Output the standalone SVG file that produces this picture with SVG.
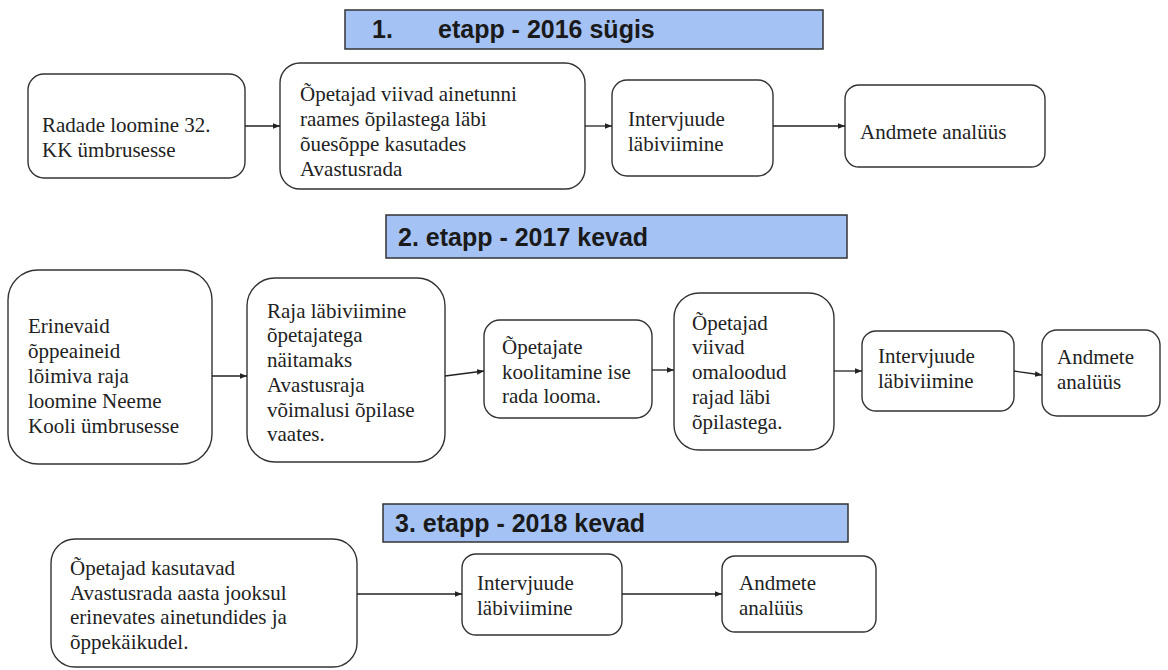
<svg xmlns="http://www.w3.org/2000/svg" width="1168" height="670" viewBox="0 0 1168 670">
<defs>
<style>
.hdr{fill:#a4c2f4;stroke:#333;stroke-width:1.5}
.ht{font-family:"Liberation Sans",Arial,sans-serif;font-weight:bold;font-size:25px;fill:#1a1a1a}
.box{fill:#fff;stroke:#333;stroke-width:1.4}
.t{font-family:"Liberation Serif","Times New Roman",serif;font-size:21px;fill:#222}
.c{stroke:#222;stroke-width:1.3;fill:none;marker-end:url(#ah)}
</style>
<marker id="ah" viewBox="0 0 10 10" refX="10" refY="5" markerWidth="7" markerHeight="7" markerUnits="userSpaceOnUse" orient="auto">
<path d="M0,1 L10,5 L0,9 z" fill="#222"/>
</marker>
</defs>
<rect width="1168" height="670" fill="#fff"/>

<g id="h1"><rect class="hdr" x="345" y="10" width="478" height="39"/><text class="ht" x="372" y="38">1.</text><text class="ht" x="438" y="38">etapp - 2016 sügis</text></g>
<g id="h2"><rect class="hdr" x="386" y="215" width="461" height="43"/><text class="ht" x="398" y="246">2. etapp - 2017 kevad</text></g>
<g id="h3"><rect class="hdr" x="383" y="504" width="465" height="38"/><text class="ht" x="395" y="532">3. etapp - 2018 kevad</text></g>

<g id="a1"><rect class="box" x="28" y="74" width="217" height="104" rx="16"/><text class="t"><tspan x="42" y="132">Radade loomine 32.</tspan><tspan x="42" y="157">KK ümbrusesse</tspan></text></g>
<g id="a2"><rect class="box" x="280" y="63" width="305" height="126" rx="20"/><text class="t"><tspan x="300" y="101">Õpetajad viivad ainetunni</tspan><tspan x="300" y="126">raames õpilastega läbi</tspan><tspan x="300" y="151">õuesõppe kasutades</tspan><tspan x="300" y="176">Avastusrada</tspan></text></g>
<g id="a3"><rect class="box" x="612" y="80" width="161" height="96" rx="15"/><text class="t"><tspan x="628" y="126">Intervjuude</tspan><tspan x="628" y="151">läbiviimine</tspan></text></g>
<g id="a4"><rect class="box" x="845" y="85" width="200" height="82" rx="14"/><text class="t"><tspan x="860" y="139">Andmete analüüs</tspan></text></g>

<g id="b1"><rect class="box" x="8" y="270" width="204" height="194" rx="30"/><text class="t"><tspan x="28" y="333">Erinevaid</tspan><tspan x="28" y="358">õppeaineid</tspan><tspan x="28" y="383">lõimiva raja</tspan><tspan x="28" y="408">loomine Neeme</tspan><tspan x="28" y="433">Kooli ümbrusesse</tspan></text></g>
<g id="b2"><rect class="box" x="247" y="278" width="198" height="184" rx="28"/><text class="t"><tspan x="267" y="318">Raja läbiviimine</tspan><tspan x="267" y="342">õpetajatega</tspan><tspan x="267" y="367">näitamaks</tspan><tspan x="267" y="392">Avastusraja</tspan><tspan x="267" y="417">võimalusi õpilase</tspan><tspan x="267" y="441">vaates.</tspan></text></g>
<g id="b3"><rect class="box" x="484" y="320" width="168" height="98" rx="16"/><text class="t"><tspan x="502" y="354">Õpetajate</tspan><tspan x="502" y="379">koolitamine ise</tspan><tspan x="502" y="403">rada looma.</tspan></text></g>
<g id="b4"><rect class="box" x="674" y="293" width="160" height="157" rx="25"/><text class="t"><tspan x="692" y="330">Õpetajad</tspan><tspan x="692" y="354">viivad</tspan><tspan x="692" y="379">omaloodud</tspan><tspan x="692" y="404">rajad läbi</tspan><tspan x="692" y="429">õpilastega.</tspan></text></g>
<g id="b5"><rect class="box" x="862" y="331" width="152" height="80" rx="14"/><text class="t"><tspan x="878" y="363">Intervjuude</tspan><tspan x="878" y="388">läbiviimine</tspan></text></g>
<g id="b6"><rect class="box" x="1042" y="330" width="118" height="86" rx="15"/><text class="t"><tspan x="1057" y="364">Andmete</tspan><tspan x="1057" y="389">analüüs</tspan></text></g>

<g id="c1"><rect class="box" x="51" y="539" width="306" height="128" rx="24"/><text class="t"><tspan x="70" y="575">Õpetajad kasutavad</tspan><tspan x="70" y="600">Avastusrada aasta jooksul</tspan><tspan x="70" y="624">erinevates ainetundides ja</tspan><tspan x="70" y="649">õppekäikudel.</tspan></text></g>
<g id="c2"><rect class="box" x="462" y="554" width="160" height="81" rx="14"/><text class="t"><tspan x="477" y="590">Intervjuude</tspan><tspan x="477" y="615">läbiviimine</tspan></text></g>
<g id="c3"><rect class="box" x="722" y="556" width="154" height="76" rx="13"/><text class="t"><tspan x="739" y="590">Andmete</tspan><tspan x="739" y="615">analüüs</tspan></text></g>

<g id="connectors">
<line class="c" x1="245" y1="126" x2="280" y2="126"/>
<line class="c" x1="585" y1="126" x2="612" y2="126"/>
<line class="c" x1="773" y1="126" x2="845" y2="126"/>
<line class="c" x1="212" y1="376" x2="247" y2="376"/>
<line class="c" x1="445" y1="376" x2="484" y2="371"/>
<line class="c" x1="652" y1="370" x2="674" y2="370"/>
<line class="c" x1="834" y1="371" x2="862" y2="371"/>
<line class="c" x1="1014" y1="371" x2="1042" y2="375"/>
<line class="c" x1="357" y1="594" x2="462" y2="594"/>
<line class="c" x1="622" y1="594" x2="722" y2="594"/>
</g>
</svg>
